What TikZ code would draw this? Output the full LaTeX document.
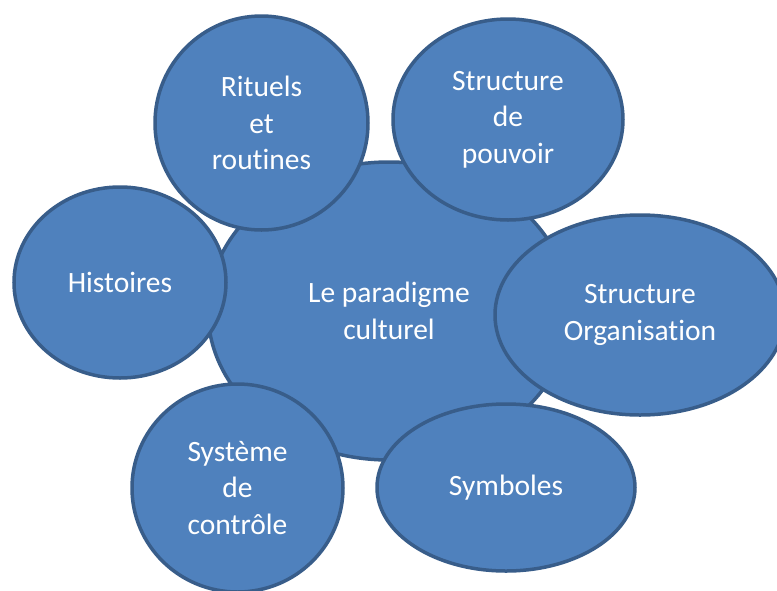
\documentclass[tikz,border=0pt]{standalone}
\usepackage{fontspec}
\setmainfont{Carlito}[Ligatures=NoCommon]
\usetikzlibrary{shapes.geometric}
\definecolor{bubblefill}{HTML}{4F81BD}
\definecolor{bubbleline}{HTML}{385D8A}
\tikzset{
  bubble/.style={ellipse, draw=bubbleline, fill=bubblefill, line width=3.5pt,
    inner sep=0pt, text=white, align=center,
    font=\fontsize{29.5}{36.5}\selectfont},
}
\begin{document}
\begin{tikzpicture}[x=1pt,y=-1pt]
\clip (0,0) rectangle (777,590);
\fill[white] (0,0) rectangle (777,590);
\node[bubble, minimum width=362pt, minimum height=298pt] (centre) at (389,311) {Le paradigme\\culturel};
\node[bubble, minimum width=212pt, minimum height=191pt] (histoires) at (120,282.5) {Histoires};
\node[bubble, minimum width=213pt, minimum height=214pt] (rituels) at (261.5,123) {Rituels\\et\\routines};
\node[bubble, minimum width=230pt, minimum height=201pt] (pouvoir) at (508,119.5) {Structure\\de\\pouvoir};
\node[bubble, minimum width=290pt, minimum height=200pt] (organisation) at (640,315) {Structure\\Organisation};
\node[bubble, minimum width=211pt, minimum height=208pt] (controle) at (237.5,488) {Système\\de\\contrôle};
\node[bubble, minimum width=258pt, minimum height=167pt] (symboles) at (506,487.5) {Symboles};
\end{tikzpicture}
\end{document}
